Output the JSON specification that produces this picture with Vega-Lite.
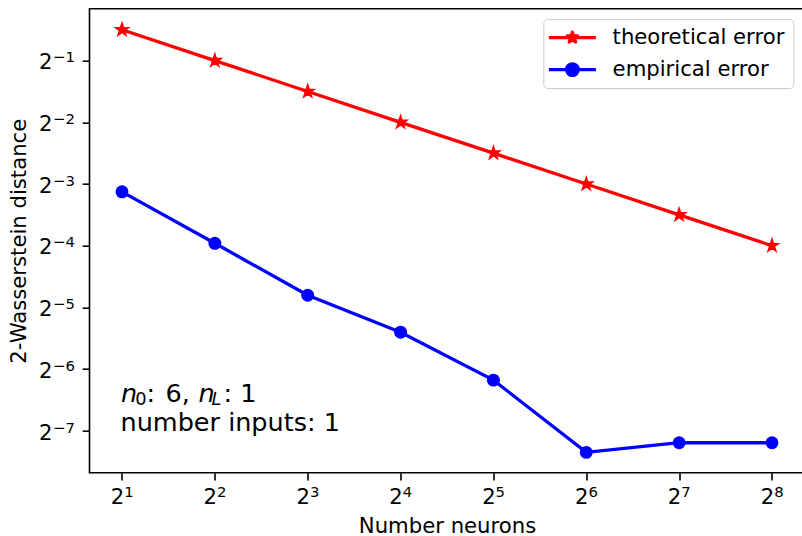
{
  "$schema": "https://vega.github.io/schema/vega-lite/v6.json",
  "width": 715,
  "height": 464,
  "autosize": {"type": "none"},
  "padding": {"left": 89.5, "top": 8.7, "right": 0, "bottom": 63.3},
  "background": "white",
  "config": {
    "font": "DejaVu Sans",
    "view": {"stroke": "black", "strokeWidth": 1.6},
    "axis": {
      "grid": false,
      "domain": false,
      "tickColor": "black",
      "tickWidth": 1.6,
      "tickSize": 7.3,
      "labelFont": "DejaVu Sans",
      "labelFontSize": 21.2,
      "labelColor": "black",
      "labelOverlap": false,
      "labelFlush": false,
      "labelBound": false,
      "titleFont": "DejaVu Sans",
      "titleFontSize": 21.2,
      "titleFontWeight": "normal",
      "titleColor": "black"
    }
  },
  "datasets": {
    "errors": [
      {"neurons": 2, "distance": 0.7071, "series": "theoretical error"},
      {"neurons": 4, "distance": 0.5, "series": "theoretical error"},
      {"neurons": 8, "distance": 0.3536, "series": "theoretical error"},
      {"neurons": 16, "distance": 0.25, "series": "theoretical error"},
      {"neurons": 32, "distance": 0.1768, "series": "theoretical error"},
      {"neurons": 64, "distance": 0.125, "series": "theoretical error"},
      {"neurons": 128, "distance": 0.0884, "series": "theoretical error"},
      {"neurons": 256, "distance": 0.0625, "series": "theoretical error"},
      {"neurons": 2, "distance": 0.1145, "series": "empirical error"},
      {"neurons": 4, "distance": 0.0642, "series": "empirical error"},
      {"neurons": 8, "distance": 0.0358, "series": "empirical error"},
      {"neurons": 16, "distance": 0.02365, "series": "empirical error"},
      {"neurons": 32, "distance": 0.0138, "series": "empirical error"},
      {"neurons": 64, "distance": 0.00613, "series": "empirical error"},
      {"neurons": 128, "distance": 0.00683, "series": "empirical error"},
      {"neurons": 256, "distance": 0.00683, "series": "empirical error"}
    ],
    "note": [{"neurons": 2, "distance": 0.0078125}]
  },
  "data": {"name": "errors"},
  "resolve": {"axis": {"x": "independent", "y": "independent"}},
  "layer": [
    {
      "mark": {"type": "line", "strokeWidth": 3.3, "strokeCap": "butt"},
      "encoding": {
        "x": {
          "field": "neurons",
          "type": "quantitative",
          "scale": {"type": "log", "base": 2, "domain": [1.5692, 326.3], "nice": false, "zero": false},
          "axis": {
            "orient": "bottom",
            "title": "Number neurons",
            "values": [2, 4, 8, 16, 32, 64, 128, 256],
            "labelExpr": "'2'",
            "labelBaseline": "alphabetic",
            "labelAlign": "right",
            "labelOffset": 1.7,
            "labelPadding": 23.3,
            "titleX": 357.5,
            "titleY": 60,
            "titleBaseline": "alphabetic",
            "titleAlign": "center"
          }
        },
        "y": {
          "field": "distance",
          "type": "quantitative",
          "scale": {"type": "log", "base": 2, "domain": [0.004877, 0.8962], "nice": false, "zero": false},
          "axis": {
            "orient": "left",
            "title": "2-Wasserstein distance",
            "values": [0.5, 0.25, 0.125, 0.0625, 0.03125, 0.015625, 0.0078125],
            "labelExpr": "'2'",
            "labelBaseline": "alphabetic",
            "labelAlign": "right",
            "labelOffset": 8.3,
            "labelPadding": 30.2,
            "titleAngle": 270,
            "titleX": -64.5,
            "titleY": 232,
            "titleBaseline": "alphabetic",
            "titleAlign": "center"
          }
        },
        "color": {
          "field": "series",
          "type": "nominal",
          "scale": {"domain": ["theoretical error", "empirical error"], "range": ["#ff0000", "#0000ff"]},
          "legend": {
            "title": "\u00a0",
            "titleOrient": "right",
            "titleFontSize": 28,
            "titlePadding": 0,
            "orient": "none",
            "legendX": 453.8,
            "legendY": 10.3,
            "padding": 8,
            "rowPadding": 10,
            "labelOffset": 40.1,
            "labelLimit": 400,
            "labelFont": "DejaVu Sans",
            "labelFontSize": 21.2,
            "labelColor": "black",
            "strokeColor": "#cccccc",
            "fillColor": "white",
            "cornerRadius": 4,
            "symbolSize": 144,
            "symbolStrokeWidth": 3.3,
            "encode": {
              "symbols": {
                "update": {
                  "shape": {"signal": "datum.value === 'theoretical error' ? 'M-2.17,0H5.66M1.75,-0.9L1.952,-0.278L2.606,-0.278L2.077,0.106L2.279,0.728L1.75,0.344L1.221,0.728L1.423,0.106L0.894,-0.278L1.548,-0.278Z' : 'M-2.17,0H5.66M2.72,0A0.97,0.97,0,1,1,0.78,0A0.97,0.97,0,1,1,2.72,0Z'"},
                  "fill": {"signal": "datum.value === 'theoretical error' ? '#ff0000' : '#0000ff'"},
                  "stroke": {"signal": "datum.value === 'theoretical error' ? '#ff0000' : '#0000ff'"},
                  "strokeWidth": {"value": 3.3},
                  "strokeJoin": {"value": "round"},
                  "size": {"value": 144},
                  "opacity": {"value": 1},
                  "fillOpacity": {"value": 1},
                  "strokeOpacity": {"value": 1}
                }
              }
            }
          }
        }
      }
    },
    {
      "transform": [{"filter": "datum.series === 'theoretical error'"}],
      "mark": {
        "type": "point",
        "shape": "M0,-1L0.2245,-0.309L0.951,-0.309L0.363,0.118L0.588,0.809L0,0.382L-0.588,0.809L-0.363,0.118L-0.951,-0.309L-0.2245,-0.309Z",
        "size": 180,
        "filled": true,
        "fill": "#ff0000",
        "stroke": "#ff0000",
        "strokeWidth": 1.5,
        "opacity": 1
      },
      "encoding": {
        "x": {
          "field": "neurons",
          "type": "quantitative",
          "scale": {"type": "log", "base": 2, "domain": [1.5692, 326.3], "nice": false, "zero": false},
          "axis": {
            "orient": "bottom",
            "title": null,
            "ticks": false,
            "values": [2, 4, 8, 16, 32, 64, 128, 256],
            "labelExpr": "format(log(datum.value) / LN2, 'd')",
            "labelFontSize": 14.85,
            "labelBaseline": "alphabetic",
            "labelAlign": "left",
            "labelOffset": 1.7,
            "labelPadding": 23.3
          }
        },
        "y": {
          "field": "distance",
          "type": "quantitative",
          "scale": {"type": "log", "base": 2, "domain": [0.004877, 0.8962], "nice": false, "zero": false},
          "axis": {
            "orient": "left",
            "title": null,
            "ticks": false,
            "values": [0.5, 0.25, 0.125, 0.0625, 0.03125, 0.015625, 0.0078125],
            "labelExpr": "'−' + format(abs(log(datum.value) / LN2), 'd')",
            "labelFontSize": 14.85,
            "labelBaseline": "alphabetic",
            "labelAlign": "right",
            "labelOffset": 1.3,
            "labelPadding": 15
          }
        }
      }
    },
    {
      "transform": [{"filter": "datum.series === 'empirical error'"}],
      "mark": {"type": "point", "shape": "circle", "size": 167, "filled": true, "fill": "#0000ff", "opacity": 1},
      "encoding": {
        "x": {"field": "neurons", "type": "quantitative", "axis": null},
        "y": {"field": "distance", "type": "quantitative", "axis": null}
      }
    },
    {
      "data": {"name": "note"},
      "encoding": {
        "x": {"field": "neurons", "type": "quantitative", "axis": null},
        "y": {"field": "distance", "type": "quantitative", "axis": null}
      },
      "layer": [
        {
          "mark": {"type": "text", "align": "left", "baseline": "alphabetic", "font": "DejaVu Sans", "fontSize": 25.5, "fontStyle": "italic", "color": "black", "dx": -1, "dy": -28.4},
          "encoding": {"text": {"value": "n"}}
        },
        {
          "mark": {"type": "text", "align": "left", "baseline": "alphabetic", "font": "DejaVu Sans", "fontSize": 17.85, "color": "black", "dx": 13.3, "dy": -25.7},
          "encoding": {"text": {"value": "0"}}
        },
        {
          "mark": {"type": "text", "align": "left", "baseline": "alphabetic", "font": "DejaVu Sans", "fontSize": 25.5, "color": "black", "dx": 24.5, "dy": -28.4},
          "encoding": {"text": {"value": ":"}}
        },
        {
          "mark": {"type": "text", "align": "left", "baseline": "alphabetic", "font": "DejaVu Sans", "fontSize": 25.5, "color": "black", "dx": 43.6, "dy": -28.4},
          "encoding": {"text": {"value": "6,"}}
        },
        {
          "mark": {"type": "text", "align": "left", "baseline": "alphabetic", "font": "DejaVu Sans", "fontSize": 25.5, "fontStyle": "italic", "color": "black", "dx": 76.5, "dy": -28.4},
          "encoding": {"text": {"value": "n"}}
        },
        {
          "mark": {"type": "text", "align": "left", "baseline": "alphabetic", "font": "DejaVu Sans", "fontSize": 17.85, "fontStyle": "italic", "color": "black", "dx": 89.5, "dy": -25.7},
          "encoding": {"text": {"value": "L"}}
        },
        {
          "mark": {"type": "text", "align": "left", "baseline": "alphabetic", "font": "DejaVu Sans", "fontSize": 25.5, "color": "black", "dx": 101.5, "dy": -28.4},
          "encoding": {"text": {"value": ": 1"}}
        },
        {
          "mark": {"type": "text", "align": "left", "baseline": "alphabetic", "font": "DejaVu Sans", "fontSize": 25.5, "color": "black", "dx": -1.5, "dy": 0},
          "encoding": {"text": {"value": "number inputs: 1"}}
        }
      ]
    }
  ]
}
